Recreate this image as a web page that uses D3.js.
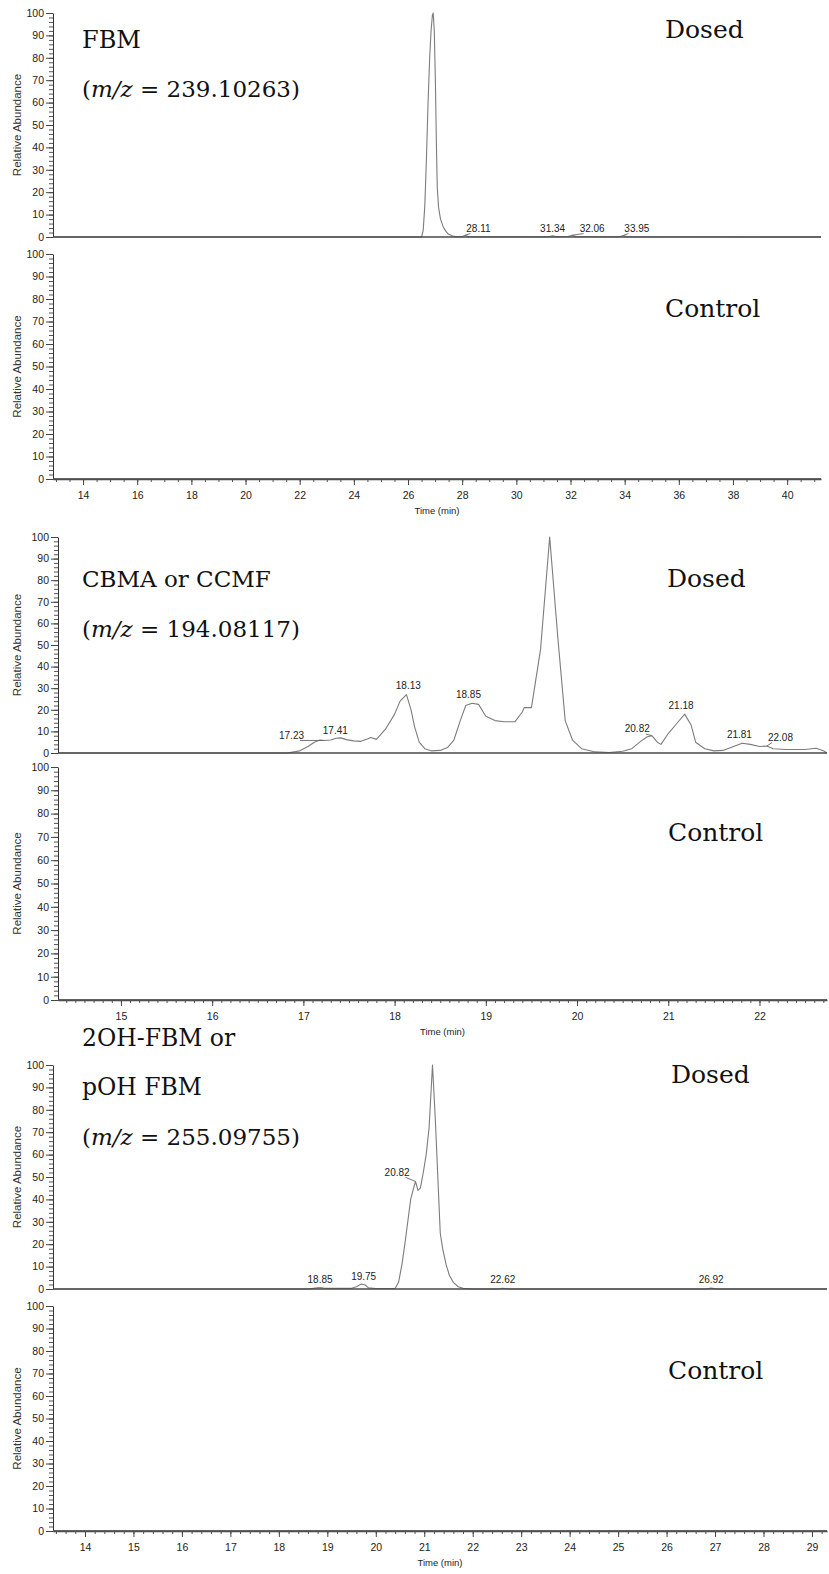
<!DOCTYPE html>
<html><head><meta charset="utf-8">
<script src="https://cdn.jsdelivr.net/npm/d3@7"></script>
<style>body{margin:0;background:#fff}svg{display:block}</style>
</head><body><svg id="c" width="829" height="1574"></svg>
<script>
// ---------- DATA ----------
// FBM (m/z 239.10263), dosed trace: retention time (min) and relative abundance (%)
const fbmTime  = [12.89, 26.50, 26.56, 26.62, 26.68, 26.74, 26.80, 26.85, 26.90, 26.93, 26.97, 27.01, 27.05, 27.08, 27.13, 27.20, 27.30, 27.40, 27.50, 27.65, 27.80, 28.00, 28.11, 28.25, 31.20, 31.34, 31.50, 31.90, 32.06, 32.20, 33.80, 33.95, 34.10, 41.25];
const fbmAbund = [0, 0, 3, 14, 35, 60, 80, 92, 99, 100, 92, 70, 40, 22, 13, 8, 4.5, 2.5, 1.2, 0.4, 0.1, 0.1, 0.8, 0.1, 0.1, 0.5, 0.1, 0.2, 0.8, 0.2, 0.1, 0.7, 0.1, 0];
const fbmPeakRT   = [28.11, 31.34, 32.06, 33.95];
const fbmPeakAb   = [0.8, 0.5, 0.8, 0.7];
const fbmLabelRT  = [28.60, 31.34, 32.80, 34.45];
const fbmLabelAb  = [2.2, 2.2, 2.2, 2.2];

// CBMA or CCMF (m/z 194.08117), dosed trace
const cbmaTime  = [14.31, 16.82, 16.96, 17.05, 17.12, 17.18, 17.23, 17.30, 17.36, 17.41, 17.47, 17.55, 17.63, 17.70, 17.74, 17.80, 17.90, 18.00, 18.06, 18.13, 18.18, 18.22, 18.27, 18.33, 18.40, 18.50, 18.58, 18.65, 18.72, 18.78, 18.85, 18.92, 19.00, 19.10, 19.20, 19.32, 19.40, 19.42, 19.50, 19.60, 19.70, 19.79, 19.87, 19.95, 20.05, 20.20, 20.35, 20.50, 20.60, 20.70, 20.77, 20.82, 20.88, 20.92, 21.00, 21.10, 21.18, 21.25, 21.30, 21.40, 21.50, 21.60, 21.70, 21.81, 21.90, 22.00, 22.08, 22.15, 22.30, 22.50, 22.62, 22.70, 22.74];
const cbmaAbund = [0, 0, 1, 3, 5, 6, 5.8, 6, 6.8, 7, 6.2, 5.6, 5.4, 6.5, 7.2, 6.3, 11, 18, 24, 27, 20, 12, 5, 2, 1, 1.2, 2.5, 6, 15, 22, 23, 22.5, 17, 15, 14.5, 14.5, 19, 21, 21, 48, 100, 53, 15, 6, 2, 0.5, 0.2, 0.8, 2, 5.5, 7.5, 8, 5, 4, 9, 14, 18, 13, 5, 2, 1, 1.2, 2.8, 4.5, 4, 3, 3.2, 2, 1.6, 1.6, 2.2, 1, 0];
const cbmaPeakRT  = [17.23, 17.41, 18.13, 18.85, 20.82, 21.18, 21.81, 22.08];
const cbmaPeakAb  = [5.8, 7, 27, 23, 8, 18, 4.5, 3.2];
const cbmaLabelRT = [16.87, 17.35, 18.15, 18.81, 20.66, 21.14, 21.78, 22.23];
const cbmaLabelAb = [6.5, 9, 29.5, 25.5, 9.5, 20.5, 7, 5.5];

// 2OH-FBM or pOH FBM (m/z 255.09755), dosed trace
const ohTime  = [13.34, 18.60, 18.75, 18.85, 18.95, 19.50, 19.60, 19.70, 19.78, 19.85, 20.00, 20.40, 20.47, 20.54, 20.60, 20.66, 20.72, 20.78, 20.82, 20.87, 20.92, 20.98, 21.04, 21.10, 21.17, 21.23, 21.28, 21.33, 21.38, 21.45, 21.52, 21.60, 21.70, 21.80, 22.00, 22.50, 22.62, 22.75, 26.80, 26.92, 27.05, 29.31];
const ohAbund = [0, 0, 0.4, 0.6, 0.3, 0.3, 1, 2.2, 1.8, 0.5, 0.2, 0.3, 3, 11, 20, 30, 40, 45, 48, 44, 45, 52, 60, 72, 100, 75, 50, 25, 18, 11, 6, 3, 1, 0.3, 0, 0, 0.3, 0, 0, 0.4, 0, 0];
const ohPeakRT  = [18.85, 19.75, 20.82, 22.62, 26.92];
const ohPeakAb  = [0.6, 2.2, 48, 0.3, 0.4];
const ohLabelRT = [18.85, 19.75, 20.44, 22.62, 26.92];
const ohLabelAb = [2.8, 4.2, 50.5, 2.5, 2.6];

// control traces: flat at zero
const controlAbund = [0, 0];

// tick values and texts
const yMajorTicks = d3.range(0, 101, 10);
const yMinorTicks = d3.range(0, 101, 2);
const xMajorFBM  = [14, 16, 18, 20, 22, 24, 26, 28, 30, 32, 34, 36, 38, 40];
const xMinorFBM  = d3.range(13, 41.01, 0.5);
const xMajorCBMA = [15, 16, 17, 18, 19, 20, 21, 22];
const xMinorCBMA = d3.range(144, 228, 1).map(d => d / 10);
const xMajorOH   = [14, 15, 16, 17, 18, 19, 20, 21, 22, 23, 24, 25, 26, 27, 28, 29];
const xMinorOH   = d3.range(67, 147, 1).map(d => d / 5);
const yTitle = "Relative Abundance";
const xTitle = "Time (min)";

// ---------- DRAWING ----------
const svg = d3.select("#c");
const SANS = "'Liberation Sans', Arial, sans-serif";
const SERIF = "'DejaVu Serif', serif";

function drawPanel(o) {
  const x = o.x, y = d3.scaleLinear().domain([0, 100]).range([o.bottom, o.top]);
  const g = svg.append("g");
  const ax = x.range()[0];
  // y axis minor
  g.append("g").attr("transform", `translate(${ax},0)`)
    .call(d3.axisLeft(y).tickValues(yMinorTicks).tickSize(4).tickSizeOuter(0).tickFormat(""))
    .call(s => { s.select(".domain").remove(); s.selectAll("line").attr("stroke", "#555"); });
  // y axis major
  g.append("g").attr("transform", `translate(${ax},0)`)
    .call(d3.axisLeft(y).tickValues(yMajorTicks).tickSize(7).tickSizeOuter(0).tickPadding(2).tickFormat(d3.format("d")))
    .call(s => {
      s.select(".domain").attr("stroke", "#333");
      s.selectAll("line").attr("stroke", "#444");
      s.selectAll("text").attr("font-family", SANS).attr("font-size", 10.5).attr("fill", "#222");
    });
  // y title
  g.append("text").attr("transform", `translate(21,${(o.top + o.bottom) / 2}) rotate(-90)`)
    .attr("text-anchor", "middle").attr("font-family", SANS).attr("font-size", 11.5).attr("fill", "#333")
    .text(yTitle);
  // x axis
  if (o.xMajor) {
    g.append("g").attr("transform", `translate(0,${o.bottom})`)
      .call(d3.axisBottom(x).tickValues(o.xMinor).tickSize(3).tickSizeOuter(0).tickFormat(""))
      .call(s => { s.select(".domain").remove(); s.selectAll("line").attr("stroke", "#555"); });
    g.append("g").attr("transform", `translate(0,${o.bottom})`)
      .call(d3.axisBottom(x).tickValues(o.xMajor).tickSize(6).tickSizeOuter(0).tickPadding(7).tickFormat(d3.format("d")))
      .call(s => {
        s.select(".domain").attr("stroke", "#444").attr("stroke-width", 1.4);
        s.selectAll("line").attr("stroke", "#444");
        s.selectAll("text").attr("font-family", SANS).attr("font-size", 10.5).attr("fill", "#222");
      });
    g.append("text").attr("x", (x.range()[0] + x.range()[1]) / 2).attr("y", o.bottom + 35)
      .attr("text-anchor", "middle").attr("font-family", SANS).attr("font-size", 9.5).attr("fill", "#222")
      .text(xTitle);
  }
  // trace
  const tt = o.time || x.domain();
  const ab = o.abund || controlAbund;
  const pts = tt.map((t, i) => [t, ab[i]]);
  g.append("path").datum(pts)
    .attr("d", d3.line().x(d => x(d[0])).y(d => y(d[1])))
    .attr("fill", "none").attr("stroke", "#7c7c7c").attr("stroke-width", 1.1).attr("stroke-linejoin", "round");
  // baseline
  g.append("line").attr("x1", x.range()[0]).attr("x2", x.range()[1])
    .attr("y1", y(0)).attr("y2", y(0)).attr("stroke", "#4a4a4a").attr("stroke-width", 1.6);
  // peak labels
  if (o.peakRT) {
    o.peakRT.forEach((rt, i) => {
      const lx = x(o.labelRT[i]), ly = y(o.labelAb[i]);
      const t = g.append("text").attr("x", lx).attr("y", ly).attr("text-anchor", "middle")
        .attr("font-family", SANS).attr("font-size", 10).attr("fill", "#222").text(rt.toFixed(2));
      const px = x(rt), py = y(o.peakAb[i]);
      if (Math.abs(px - lx) > 6) {
        const w = t.node().getComputedTextLength();
        const ex = px > lx ? lx + w / 2 - 4 : lx - w / 2 + 4;
        g.append("line").attr("x1", ex).attr("y1", ly + 1.5).attr("x2", px).attr("y2", py)
          .attr("stroke", "#666").attr("stroke-width", 0.9);
      }
    });
  }
  // titles: [x, baseline y, text, font size]
  (o.texts || []).forEach(tx => {
    const te = g.append("text").attr("x", tx[0]).attr("y", tx[1])
      .attr("font-family", SERIF).attr("font-size", tx[3]).attr("fill", "#111");
    const parts = tx[2].split("m/z");
    if (parts.length > 1) {
      te.append("tspan").text(parts[0]);
      te.append("tspan").attr("font-style", "italic").text("m/z");
      te.append("tspan").text(parts[1]);
    } else te.text(tx[2]);
  });
}

const xFBM  = d3.scaleLinear().domain([12.89, 41.25]).range([53, 821]);
const xCBMA = d3.scaleLinear().domain([14.31, 22.74]).range([58, 827]);
const xOH   = d3.scaleLinear().domain([13.34, 29.31]).range([53, 827]);

drawPanel({ x: xFBM, top: 13, bottom: 237, time: fbmTime, abund: fbmAbund,
  peakRT: fbmPeakRT, peakAb: fbmPeakAb, labelRT: fbmLabelRT, labelAb: fbmLabelAb,
  texts: [[82, 48, "FBM", 24], [82, 97, "(m/z = 239.10263)", 23], [665, 38, "Dosed", 25]] });
drawPanel({ x: xFBM, top: 254, bottom: 479, xMajor: xMajorFBM, xMinor: xMinorFBM,
  texts: [[665, 317, "Control", 25]] });

drawPanel({ x: xCBMA, top: 537, bottom: 753, time: cbmaTime, abund: cbmaAbund,
  peakRT: cbmaPeakRT, peakAb: cbmaPeakAb, labelRT: cbmaLabelRT, labelAb: cbmaLabelAb,
  texts: [[82, 587, "CBMA or CCMF", 23], [82, 637, "(m/z = 194.08117)", 23], [667, 587, "Dosed", 25]] });
drawPanel({ x: xCBMA, top: 767, bottom: 1000, xMajor: xMajorCBMA, xMinor: xMinorCBMA,
  texts: [[668, 841, "Control", 25]] });

drawPanel({ x: xOH, top: 1065, bottom: 1289, time: ohTime, abund: ohAbund,
  peakRT: ohPeakRT, peakAb: ohPeakAb, labelRT: ohLabelRT, labelAb: ohLabelAb,
  texts: [[82, 1046, "2OH-FBM or", 23.5], [82, 1095, "pOH FBM", 23.5], [82, 1145, "(m/z = 255.09755)", 23], [671, 1083, "Dosed", 25]] });
drawPanel({ x: xOH, top: 1306, bottom: 1531, xMajor: xMajorOH, xMinor: xMinorOH,
  texts: [[668, 1379, "Control", 25]] });
</script>
</body></html>
